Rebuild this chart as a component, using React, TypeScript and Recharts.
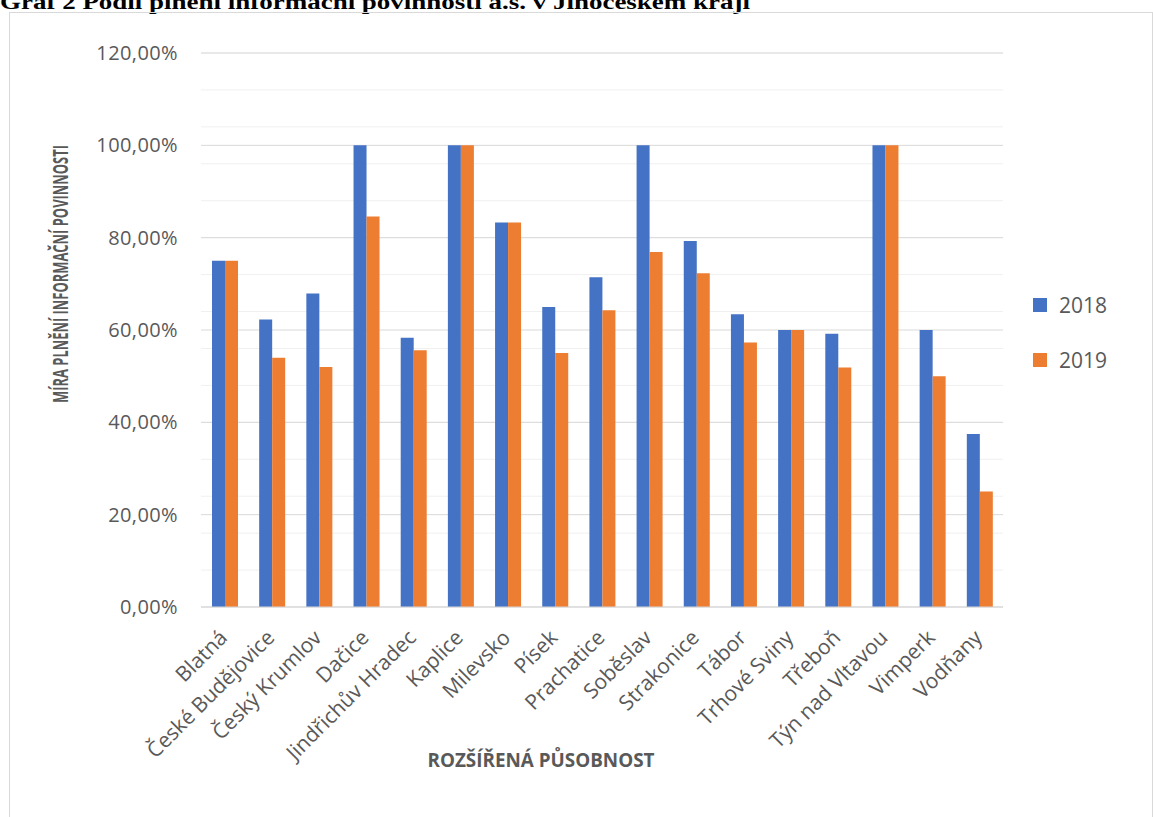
import { Bar, BarChart, CartesianGrid, Legend, XAxis, YAxis } from "recharts";

const categories = [
  "Blatná",
  "České Budějovice",
  "Český Krumlov",
  "Dačice",
  "Jindřichův Hradec",
  "Kaplice",
  "Milevsko",
  "Písek",
  "Prachatice",
  "Soběslav",
  "Strakonice",
  "Tábor",
  "Trhové Sviny",
  "Třeboň",
  "Týn nad Vltavou",
  "Vimperk",
  "Vodňany",
];
const values2018 = [75, 62.3, 67.9, 100, 58.3, 100, 83.3, 65, 71.4, 100, 79.3, 63.4, 60, 59.2, 100, 60, 37.5];
const values2019 = [75, 54, 52, 84.6, 55.6, 100, 83.3, 55, 64.3, 76.9, 72.3, 57.3, 60, 51.9, 100, 50, 25];
const yTicks = [0, 20, 40, 60, 80, 100, 120];
const minorTicks = Array.from({ length: 31 }, (_, i) => i * 4);

const data = categories.map((name, i) => ({ name, y2018: values2018[i], y2019: values2019[i] }));

const grey = "#595959";
const font = "'Open Sans', sans-serif";

const fmt = (v: number) => `${v.toFixed(2).replace(".", ",")}%`;

function XTick({ x, y, payload }: any) {
  return (
    <g transform={`translate(${x + 4},${y + 32})`}>
      <text textAnchor="end" transform="rotate(-45)" fill={grey} fontSize={21} fontFamily={font}>
        {payload.value}
      </text>
    </g>
  );
}

function YTitle(props: any) {
  const vb = props.viewBox;
  const cx = vb.x - 41;
  const cy = vb.y + vb.height / 2 - 56;
  return (
    <text
      x={cx}
      y={cy}
      transform={`rotate(-90 ${cx} ${cy})`}
      textAnchor="middle"
      dominantBaseline="central"
      fontWeight={700}
      fontSize={21}
      fontFamily={font}
      fill={grey}
      textLength={258}
      lengthAdjust="spacingAndGlyphs"
    >
      MÍRA PLNĚNÍ INFORMAČNÍ POVINNOSTI
    </text>
  );
}

function XTitle(props: any) {
  const vb = props.viewBox;
  return (
    <text
      x={vb.x + 340}
      y={vb.y + 160}
      textAnchor="middle"
      fontWeight={700}
      fontSize={20}
      fontFamily={font}
      fill={grey}
      textLength={227}
      lengthAdjust="spacingAndGlyphs"
    >
      ROZŠÍŘENÁ PŮSOBNOST
    </text>
  );
}

function LegendBox({ payload }: any) {
  return (
    <div>
      {(payload || []).map((entry: any) => (
        <div key={entry.value} style={{ display: "flex", alignItems: "center", height: 55 }}>
          <span style={{ width: 14, height: 14, background: entry.color, marginRight: 12 }} />
          <span style={{ fontSize: 21, color: grey, fontFamily: font }}>{entry.value}</span>
        </div>
      ))}
    </div>
  );
}

export default function App() {
  return (
    <div
      style={{
        position: "absolute",
        left: 0,
        top: 0,
        width: 1153,
        height: 817,
        overflow: "hidden",
        background: "#fff",
      }}
    >
      <svg width={1153} height={20} style={{ position: "absolute", left: 0, top: 0 }}>
        <text
          x={0}
          y={9}
          fontFamily="'Liberation Serif', 'Times New Roman', serif"
          fontWeight={700}
          fontSize={20}
          textLength={750}
          lengthAdjust="spacingAndGlyphs"
          fill="#000"
        >
          Graf 2 Podíl plnění informační povinnosti a.s. v Jihočeském kraji
        </text>
      </svg>
      <div
        style={{
          position: "absolute",
          left: 9,
          top: 12,
          width: 1142,
          height: 900,
          border: "1px solid #d9d9d9",
        }}
      />
      <div style={{ position: "absolute", left: 0, top: 0 }}>
        <BarChart
          width={1153}
          height={817}
          data={data}
          margin={{ top: 53, right: 150, bottom: 60, left: 101 }}
          barSize={13}
          barGap={0}
        >
          <CartesianGrid vertical={false} horizontalValues={minorTicks} stroke="#f0f0f0" />
          <CartesianGrid vertical={false} stroke="#d9d9d9" />
          <XAxis
            dataKey="name"
            interval={0}
            height={150}
            tickLine={false}
            tickSize={0}
            tickMargin={0}
            axisLine={{ stroke: "#d9d9d9" }}
            tick={<XTick />}
            label={{ content: XTitle }}
          />
          <YAxis
            width={100}
            domain={[0, 120]}
            ticks={yTicks}
            tickFormatter={fmt}
            axisLine={false}
            tickLine={false}
            tickSize={0}
            tickMargin={23}
            tick={{ fill: grey, fontSize: 20, fontFamily: font, letterSpacing: 0.4 }}
            label={{ content: YTitle }}
          />
          <Legend
            layout="vertical"
            align="center"
            verticalAlign="middle"
            wrapperStyle={{ left: 1033, top: 277, width: 110 }}
            content={<LegendBox />}
          />
          <Bar dataKey="y2018" name="2018" fill="#4472C4" isAnimationActive={false} />
          <Bar dataKey="y2019" name="2019" fill="#ED7D31" isAnimationActive={false} />
        </BarChart>
      </div>
    </div>
  );
}
